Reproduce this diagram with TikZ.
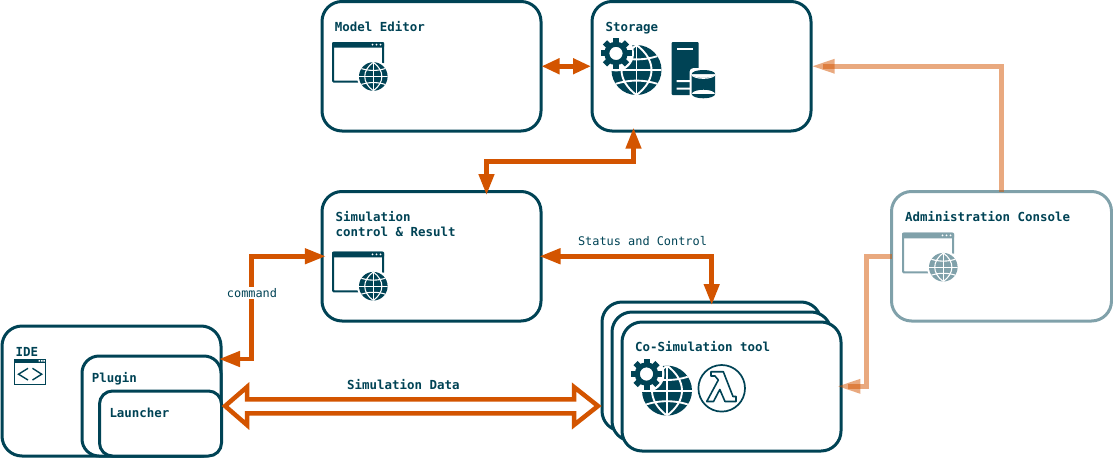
\documentclass[tikz,border=0pt]{standalone}
\usepackage{fontspec}
\setmonofont{DejaVu Sans Mono}
\usetikzlibrary{arrows.meta,calc}
\definecolor{teal}{HTML}{004355}
\definecolor{pale}{HTML}{80A1AA}
\definecolor{rust}{HTML}{D35400}
\tikzset{
  x=1pt,y=-1pt,
  box/.style={draw=teal,line width=3pt,fill=white,rounded corners=#1,inner sep=0pt,outer sep=0pt,minimum width=219pt,minimum height=129.5pt},
  box/.default=20pt,
  title/.style={anchor=base west,inner sep=0pt,text=teal,font=\ttfamily\bfseries\fontsize{12.45}{15}\selectfont,align=left},
  hwire/.style={draw=rust,line width=4.5pt},
  lwire/.style={draw=rust,line width=5pt,opacity=.5},
  lhead/.style={fill=rust,opacity=.5},
  lab/.style={inner sep=1.5pt,text=teal,font=\ttfamily\fontsize{11.9}{14}\selectfont},
  midtip/.style={{Triangle[length=18pt,width=15pt]}-{Triangle[length=18pt,width=15pt]}},
  bigtip/.style={{Triangle[length=21pt,width=15pt]}-{Triangle[length=21pt,width=15pt]}}
}
\newcommand{\globe}[4]{% cx cy r colour
  \begin{scope}[shift={(#1,#2)}]
    \fill[white] (0,0) circle[radius=#3+2];
    \fill[#4] (0,0) circle[radius=#3];
    \begin{scope}[white,line width=#3*.075pt]
      \clip (0,0) circle[radius=#3];
      \draw (0,-#3) -- (0,#3) (-#3,0) -- (#3,0);
      \draw (-#3,-.62*#3) .. controls (-.4*#3,-.36*#3) and (.4*#3,-.36*#3) .. (#3,-.62*#3);
      \draw (-#3,.62*#3) .. controls (-.4*#3,.36*#3) and (.4*#3,.36*#3) .. (#3,.62*#3);
      \draw (0,-#3) .. controls (-.8*#3,-.4*#3) and (-.8*#3,.4*#3) .. (0,#3);
      \draw (0,-#3) .. controls (.8*#3,-.4*#3) and (.8*#3,.4*#3) .. (0,#3);
    \end{scope}
  \end{scope}}
\newcommand{\webicon}[3]{% x y colour
  \begin{scope}[shift={(#1,#2)}]
    \draw[#3,line width=2pt,rounded corners=1pt] (50,20) -- (50,0) -- (0,0) -- (0,38.7) -- (30,38.7);
    \fill[#3,rounded corners=1pt] (-1,-1) rectangle (51,4.7);
    \fill[white] (39.5,1.7) circle[radius=1] (43.5,1.7) circle[radius=1] (47.5,1.7) circle[radius=1];
    \globe{40.3}{33.5}{14.3}{#3}
  \end{scope}}
\newcommand{\gearglobe}[3]{% x y colour; x y = gear centre
  \begin{scope}[shift={(#1,#2)}]
    \globe{20.5}{16.6}{25}{#3}
    \fill[white] (0,0) circle[radius=18];
    \foreach \a in {0,45,...,315}
      \fill[#3,rotate=\a] (-3,-15.5) rectangle (3,-9);
    \draw[#3,line width=5pt] (0,0) circle[radius=9.2];
  \end{scope}}
\begin{document}
\begin{tikzpicture}
\useasboundingbox (0,0) rectangle (1113,458);
% boxes
\node[box] (editor) at (431.5,66.25) {};
\node[box] (storage) at (701.5,66.25) {};
\node[box] (sim) at (431.5,256.25) {};
\node[box,draw=pale,minimum width=220pt] (admin) at (1001.5,256.25) {};
\node[box,minimum height=130pt] (ide) at (111.5,391) {};
\node[box=17pt,minimum width=139pt,minimum height=100pt] (plugin) at (151.5,406) {};
\node[box=13pt,minimum width=122pt,minimum height=65pt] (launcher) at (160.5,423.5) {};
\node[box,minimum height=129pt] (back) at (711.5,366.5) {};
\node[box,minimum height=129pt] (mid) at (721.5,376.5) {};
\node[box,minimum height=129pt] (cosim) at (731.5,386.5) {};
% titles
\node[title] (t1) at (334.7,31) {Model Editor};
\node[title] (t2) at (605.5,31) {Storage};
\node[title] (t3) at (335.5,236) {Simulation\\control \& Result};
\node[title] (t4) at (905,221) {Administration Console};
\node[title] (t5) at (15.5,356) {IDE};
\node[title] (t6) at (91.7,382) {Plugin};
\node[title] (t7) at (109.3,417.3) {Launcher};
\node[title] (t8) at (635,351) {Co-Simulation tool};
% icons
\webicon{333}{43}{teal}
\webicon{333}{252.7}{teal}
\webicon{903}{233.7}{pale}
\gearglobe{616}{53.4}{teal}
\gearglobe{646.5}{374}{teal}
% server
\fill[teal,rounded corners=1pt] (671.7,42) rectangle (698.7,95);
\fill[white] (676.7,48.3) rectangle (693,50.3);
\fill[white] (676.7,80) rectangle (693,82) (676.7,87.5) rectangle (693,89.5);
\fill[white,rounded corners=4pt] (689.5,68) rectangle (717.5,100);
\fill[teal] (703.4,74) ellipse[x radius=11.7,y radius=4] (703.4,94) ellipse[x radius=11.7,y radius=4.3] (691.7,74) rectangle (715.1,94);
\begin{scope}
  \clip (690,74.5) rectangle (717,82);
  \draw[white,line width=.9pt] (703.4,74.2) ellipse[x radius=11.7,y radius=4.2];
\end{scope}
% lambda
\draw[teal,line width=1.7pt] (721.7,388.3) circle[radius=23.3];
\draw[teal,line width=1.6pt,line join=round] (711,371.7) -- (723.3,371.7) -- (733,396.5) -- (736,396.5) -- (736,401.5) -- (725,401.5) -- (719.8,389.5) -- (713.5,401.5) -- (706.7,401.5) -- (718.3,380) -- (715,376) -- (711,376) -- cycle;
% IDE icon
\draw[teal,line width=1pt] (14.5,360) rectangle (45.2,384);
\fill[teal] (14,359.3) rectangle (45.7,362.6);
\draw[teal,line width=1.4pt] (28,368.3) -- (18.5,374.2) -- (28,380) (32.5,368.3) -- (41.7,374.2) -- (32.5,380);
\fill[white] (38.5,360) rectangle (40,361.5) (41,360) rectangle (42.5,361.5) (43.3,360) rectangle (44.8,361.5);
% connectors
\coordinate (sa) at ($(storage.south)+(-68,0)$);
\coordinate (sb) at ($(sim.north)+(55,0)$);
\coordinate (pa) at (plugin.east |- 0,359);
\coordinate (ca) at (back.north -| 711.7,0);
\coordinate (ra) at (admin.north -| 1001.3,0);
\coordinate (la) at (cosim.east |- 0,386.3);
\coordinate (ua) at (storage.east);
\draw[hwire,midtip,shorten >=-1.5pt,shorten <=-1.5pt] ($(editor.east)+(2,0)$) -- ($(storage.west)+(-2.5,0)$);
\draw[hwire,bigtip,shorten >=-3.5pt,shorten <=-3.3pt] (sa) -- (sa |- 0,161.7) -| (sb);
\draw[hwire,bigtip,shorten >=-3.8pt,shorten <=-2pt] (pa) -- (251.7,359) -- (251.7,256.25) -- (sim.west);
\draw[hwire,bigtip,shorten >=-3pt,shorten <=-1.5pt] (sim.east) -- (711.7,256.25) -- (ca);
\coordinate (dl) at (launcher.east |- 0,406);
\coordinate (dr) at (back.west |- 0,406);
\draw[draw=rust,fill=white,line width=4.5pt,miter limit=10] ($(dl)+(3.6,0)$) -- ($(dl)+(25.5,-19)$) -- ($(dl)+(25.5,-6.7)$) -- ($(dr)+(-28,-6.7)$) -- ($(dr)+(-28,-19)$) -- ($(dr)+(-4,0)$) -- ($(dr)+(-28,19)$) -- ($(dr)+(-28,7.3)$) -- ($(dl)+(25.5,7.3)$) -- ($(dl)+(25.5,19)$) -- cycle;
% pale connectors
\draw[lwire] (ra) -- (1001.3,66.25) -- ($(ua)+(11.7,0)$);
\path[lhead] ($(ua)+(1.7,0)$) -- ($(ua)+(23.7,-7.5)$) -- ($(ua)+(23.7,7.5)$) -- cycle;
\draw[lwire] (admin.west) -- (866.3,256.25) -- (866.3,386.3) -- ($(la)+(7.3,0)$);
\path[lhead] ($(la)+(-2.7,0)$) -- ($(la)+(19.3,-7.5)$) -- ($(la)+(19.3,7.5)$) -- cycle;
% labels
\node[lab,fill=white] (l1) at (252,293.3) {command};
\node[lab] (l2) at (642.5,241.5) {Status and Control};
\node[title] (l3) at (347,389) {Simulation Data};
\end{tikzpicture}
\end{document}
